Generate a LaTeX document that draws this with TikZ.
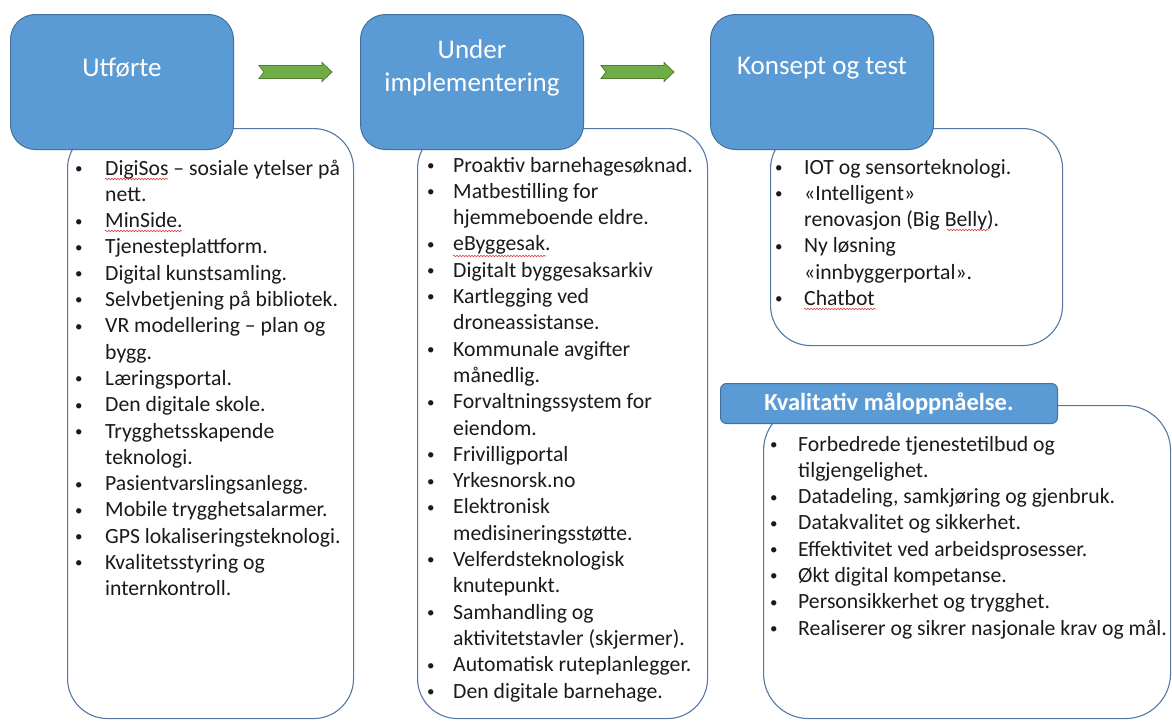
\documentclass[tikz,border=0pt]{standalone}
\usepackage{fontspec}
\setmainfont{Carlito}
\usetikzlibrary{decorations.pathmorphing}
\definecolor{boxblue}{HTML}{5B9BD5}
\definecolor{boxedge}{HTML}{41719C}
\definecolor{listedge}{HTML}{5479A5}
\definecolor{arrowgreen}{HTML}{70AD47}
\definecolor{arrowedge}{HTML}{507E32}
\definecolor{txt}{HTML}{1A1A1A}
\definecolor{spellred}{HTML}{E04040}
\newcommand{\bul}{{\fontsize{15}{15}\selectfont\raisebox{1.6pt}{\textbullet}}}
\tikzset{
  pics/greenarrow/.style={code={
    \draw[fill=arrowgreen, draw=arrowedge, line width=0.8pt, line join=miter]
      (0,-6.5) -- (63,-6.5) -- (63,-9.5) -- (73,0) -- (63,9.5) -- (63,6.5) -- (0,6.5) -- (5,0) -- cycle;}}
}
\begin{document}
\begin{tikzpicture}[x=1pt,y=-1pt,
  listbox/.style={draw=listedge, line width=1.1pt, fill=white, rounded corners=40pt, anchor=north west, inner sep=0pt},
  headbox/.style={draw=boxedge, line width=1pt, fill=boxblue, rounded corners=25pt, anchor=north west, inner sep=0pt, minimum width=223, minimum height=135},
  titletext/.style={text=white, font=\fontsize{27}{33}\selectfont, align=center, inner sep=0pt},
  items/.style={anchor=base west, inner sep=0pt, text=txt, font=\fontsize{21.7}{26.3}\selectfont},
  spell/.style={draw=spellred, line width=0.6pt, decorate, decoration={snake, amplitude=0.8pt, segment length=3pt}}
]
\useasboundingbox (0,0) rectangle (1172,720);
\fill[white] (0,0) rectangle (1172,720);

% list boxes
\node[listbox, minimum width=286, minimum height=590] (l1) at (67,128) {};
\node[listbox, minimum width=290, minimum height=590] (l2) at (417,128) {};
\node[listbox, minimum width=292, minimum height=217] (l3) at (770,128) {};
\node[listbox, rounded corners=45pt, minimum width=407, minimum height=313] (l4) at (763,405) {};

% header boxes
\node[headbox] (h1) at (10,14) {};
\node[headbox] (h2) at (360,14) {};
\node[headbox] (h3) at (710,14) {};
\node[draw=boxedge, line width=1pt, fill=boxblue, rounded corners=6pt, anchor=north west,
      minimum width=337, minimum height=40, inner sep=0pt, text=white,
      font=\bfseries\fontsize{24.5}{28}\selectfont] (h4) at (720,383) {Kvalitativ måloppnåelse.};

\node[titletext] (t1) at (h1.center |- 0,68) {Utførte};
\node[titletext] (t2) at (h2.center |- 0,68) {Under\\implementering};
\node[titletext] (t3) at (h3.center |- 0,68) {Konsept og test};

% arrows
\pic (a1) at (259,72) {greenarrow};
\pic (a2) at (601,72) {greenarrow};

% lists
\node[items] (i1) at (75,175) {\begin{tabular}[t]{@{}p{30pt}@{}l@{}}
\bul & DigiSos – sosiale ytelser på\\
 & nett.\\
\bul & MinSide.\\
\bul & Tjenesteplattform.\\
\bul & Digital kunstsamling.\\
\bul & Selvbetjening på bibliotek.\\
\bul & VR modellering – plan og\\
 & bygg.\\
\bul & Læringsportal.\\
\bul & Den digitale skole.\\
\bul & Trygghetsskapende\\
 & teknologi.\\
\bul & Pasientvarslingsanlegg.\\
\bul & Mobile trygghetsalarmer.\\
\bul & GPS lokaliseringsteknologi.\\
\bul & Kvalitetsstyring og\\
 & internkontroll.
\end{tabular}};

\node[items] (i2) at (427,172) {\begin{tabular}[t]{@{}p{26pt}@{}l@{}}
\bul & Proaktiv barnehagesøknad.\\
\bul & Matbestilling for\\
 & hjemmeboende eldre.\\
\bul & eByggesak.\\
\bul & Digitalt byggesaksarkiv\\
\bul & Kartlegging ved\\
 & droneassistanse.\\
\bul & Kommunale avgifter\\
 & månedlig.\\
\bul & Forvaltningssystem for\\
 & eiendom.\\
\bul & Frivilligportal\\
\bul & Yrkesnorsk.no\\
\bul & Elektronisk\\
 & medisineringsstøtte.\\
\bul & Velferdsteknologisk\\
 & knutepunkt.\\
\bul & Samhandling og\\
 & aktivitetstavler (skjermer).\\
\bul & Automatisk ruteplanlegger.\\
\bul & Den digitale barnehage.
\end{tabular}};

\node[items] (i3) at (775,174) {\begin{tabular}[t]{@{}p{29pt}@{}l@{}}
\bul & IOT og sensorteknologi.\\
\bul & «Intelligent»\\
 & renovasjon (Big Belly).\\
\bul & Ny løsning\\
 & «innbyggerportal».\\
\bul & Chatbot
\end{tabular}};

\node[items] (i4) at (770,451) {\begin{tabular}[t]{@{}p{28pt}@{}l@{}}
\bul & Forbedrede tjenestetilbud og\\
 & tilgjengelighet.\\
\bul & Datadeling, samkjøring og gjenbruk.\\
\bul & Datakvalitet og sikkerhet.\\
\bul & Effektivitet ved arbeidsprosesser.\\
\bul & Økt digital kompetanse.\\
\bul & Personsikkerhet og trygghet.\\
\bul & Realiserer og sikrer nasjonale krav og mål.
\end{tabular}};

% spell-check marks
\draw[spell] (105,179) -- (168,179);
\draw[spell] (105,231) -- (182,231);
\draw[spell] (453,256) -- (546,256);
\draw[spell] (947,230) -- (989,230);
\draw[spell] (804,309) -- (876,309);
\end{tikzpicture}
\end{document}
